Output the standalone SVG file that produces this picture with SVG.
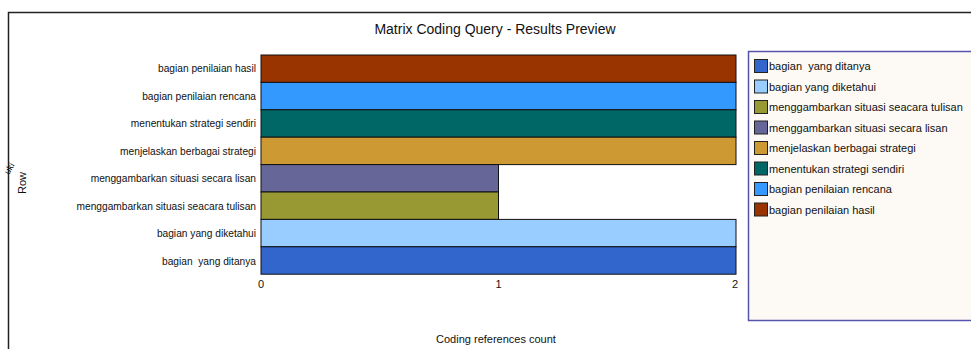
<svg xmlns="http://www.w3.org/2000/svg" width="971" height="349" viewBox="0 0 971 349">
<style>
text{font-family:"Liberation Sans",Arial,sans-serif;fill:#111;white-space:pre}
.lbl{font-size:10.2px;text-anchor:end}
.leg{font-size:11px}
.bar{stroke:#111;stroke-width:1}
.sw{stroke:#222;stroke-width:1}
</style>
<rect x="0" y="0" width="971" height="349" fill="#fff"/>
<path d="M8.5 349 V12.5 H971" fill="none" stroke="#222" stroke-width="1.5"/>
<text x="495" y="34" font-size="14" text-anchor="middle">Matrix Coding Query - Results Preview</text>
<g id="axis-row"><text x="26" y="183" font-size="11" text-anchor="middle" transform="rotate(-90 26 183)">Row</text>
<text x="12" y="170" font-size="9" text-anchor="middle" transform="rotate(-60 12 170)">uki</text></g>
<g id="bars">
<g id="b-hasil"><rect class="bar" x="261" y="55" width="475" height="27.4" fill="#993300"/><text class="lbl" x="256" y="72">bagian penilaian hasil</text></g>
<g id="b-rencana"><rect class="bar" x="261" y="82.4" width="475" height="27.4" fill="#3399ff"/><text class="lbl" x="256" y="100">bagian penilaian rencana</text></g>
<g id="b-sendiri"><rect class="bar" x="261" y="109.8" width="475" height="27.4" fill="#006666"/><text class="lbl" x="256" y="127">menentukan strategi sendiri</text></g>
<g id="b-menjelaskan"><rect class="bar" x="261" y="137.2" width="475" height="27.4" fill="#cc9933"/><text class="lbl" x="256" y="155">menjelaskan berbagai strategi</text></g>
<g id="b-lisan"><rect class="bar" x="261" y="164.6" width="237.5" height="27.4" fill="#666699"/><text class="lbl" x="256" y="182">menggambarkan situasi secara lisan</text></g>
<g id="b-tulisan"><rect class="bar" x="261" y="192" width="237.5" height="27.4" fill="#999933"/><text class="lbl" x="256" y="210">menggambarkan situasi seacara tulisan</text></g>
<g id="b-diketahui"><rect class="bar" x="261" y="219.4" width="475" height="27.4" fill="#99ccff"/><text class="lbl" x="256" y="237">bagian yang diketahui</text></g>
<g id="b-ditanya"><rect class="bar" x="261" y="246.8" width="475" height="27.4" fill="#3366cc"/><text class="lbl" x="256" y="265">bagian  yang ditanya</text></g>
</g>
<g id="ticks" font-size="11">
<text x="261" y="288" font-size="11" text-anchor="middle">0</text>
<text x="498.5" y="288" font-size="11" text-anchor="middle">1</text>
<text x="735" y="288" font-size="11" text-anchor="middle">2</text>
</g>
<text x="496" y="343" font-size="11" text-anchor="middle">Coding references count</text>
<g id="legend">
<rect x="748.5" y="51.5" width="230" height="269" fill="#fdfaf5" stroke="#5555aa" stroke-width="1.5"/>
<rect class="sw" x="754.5" y="59.5" width="13" height="13" fill="#3366cc"/><text class="leg" x="769" y="70">bagian  yang ditanya</text>
<rect class="sw" x="754.5" y="80" width="13" height="13" fill="#99ccff"/><text class="leg" x="769" y="90.5">bagian yang diketahui</text>
<rect class="sw" x="754.5" y="100.5" width="13" height="13" fill="#999933"/><text class="leg" x="769" y="111">menggambarkan situasi seacara tulisan</text>
<rect class="sw" x="754.5" y="121" width="13" height="13" fill="#666699"/><text class="leg" x="769" y="131.5">menggambarkan situasi secara lisan</text>
<rect class="sw" x="754.5" y="141.5" width="13" height="13" fill="#cc9933"/><text class="leg" x="769" y="152">menjelaskan berbagai strategi</text>
<rect class="sw" x="754.5" y="162" width="13" height="13" fill="#006666"/><text class="leg" x="769" y="172.5">menentukan strategi sendiri</text>
<rect class="sw" x="754.5" y="182.5" width="13" height="13" fill="#3399ff"/><text class="leg" x="769" y="193">bagian penilaian rencana</text>
<rect class="sw" x="754.5" y="203" width="13" height="13" fill="#993300"/><text class="leg" x="769" y="213.5">bagian penilaian hasil</text>
</g>
</svg>
